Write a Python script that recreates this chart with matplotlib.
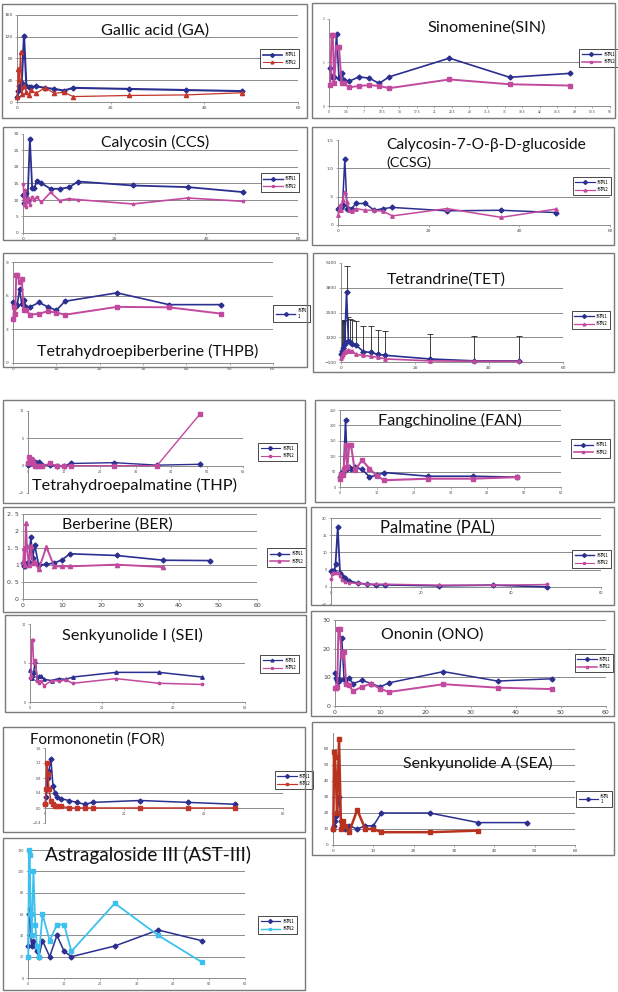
import matplotlib
matplotlib.use('Agg')
import matplotlib.pyplot as plt
from matplotlib.patches import Rectangle
from matplotlib.lines import Line2D
import numpy as np

W, H = 618, 992
fig = plt.figure(figsize=(W / 100, H / 100), dpi=100)
fig.patch.set_facecolor('white')

NAVY = '#2B2F8F'
MAG = '#C24A9E'
RED = '#C3352B'
CYAN = '#3CC0EE'
CJK = ['Noto Sans CJK SC', 'DejaVu Sans']
TITLE_FONT = ['Lato', 'DejaVu Sans']

# ---------------- data ----------------
T17 = [0.083, 0.25, 0.5, 0.75, 1, 1.5, 2, 2.5, 3, 4, 6, 8, 10, 12, 24, 36, 48]
T16 = [0.25, 0.5, 0.75, 1, 1.5, 2, 2.5, 3, 4, 6, 8, 10, 12, 24, 36, 48]
T16_36 = [0.083, 0.25, 0.5, 0.75, 1, 1.5, 2, 2.5, 3, 4, 6, 8, 10, 12, 24, 36]
legend_labels = ['系列1', '系列2']

ga_s1 = [10, 20, 30, 25, 35, 122, 30, 27, 27, 29, 26, 24, 21, 26, 24, 22, 20]
ga_s2 = [10, 60, 40, 92, 15, 30, 18, 12, 22, 16, 26, 16, 18, 10, 12, 13, 17]

sin_s1 = [0.87, 0.67, 0.70, 0.67, 1.65, 0.64, 0.75, 0.60, 0.57, 0.67, 0.64, 0.52, 0.67, 1.10, 0.66, 0.75]
sin_s2 = [0.48, 1.63, 1.63, 0.52, 1.36, 1.36, 0.52, 0.52, 0.43, 0.46, 0.48, 0.46, 0.41, 0.61, 0.50, 0.47]

ccs_s1 = [11.6, 9.0, 10.0, 12.0, 10.0, 28.5, 13.6, 13.6, 15.8, 15.1, 13.4, 13.4, 13.8, 15.6, 14.4, 13.9, 12.4]
ccs_s2 = [14.9, 8.5, 13.0, 8.0, 10.6, 8.5, 10.9, 10.0, 10.9, 9.3, 12.3, 9.8, 10.4, 10.1, 8.8, 10.6, 9.6]

ccsg_s1 = [0.29, 0.30, 0.32, 0.30, 0.35, 1.16, 0.29, 0.29, 0.29, 0.38, 0.38, 0.26, 0.29, 0.31, 0.25, 0.26, 0.22]
ccsg_s2 = [0.18, 0.26, 0.35, 0.26, 0.44, 0.59, 0.41, 0.26, 0.24, 0.29, 0.26, 0.26, 0.24, 0.16, 0.29, 0.135, 0.28]

thpb_s1 = [5.46, 5.2, 5.0, 5.1, 5.2, 6.6, 5.3, 5.6, 5.0, 5.0, 5.4, 5.0, 4.7, 5.5, 6.25, 5.2, 5.2]
thpb_s2 = [3.9, 5.0, 4.4, 7.8, 7.8, 7.2, 7.5, 4.7, 4.7, 4.3, 4.4, 4.6, 4.5, 4.3, 5.0, 4.96, 4.4]

tet_s1 = [300, 500, 650, 800, 900, 3580, 1000, 950, 850, 800, 450, 400, 300, 250, 60, -40, -40]
tet_s2 = [100, 200, 300, 400, 450, 500, 520, 500, 480, 300, 250, 200, 150, 60, -40, -60, -60]
tet_err_top = [1900, 2000, 2050, 2100, 2100, 4940, 2250, 2150, 2100, 2040, 1780, 1780, 1600, 1550, 1375, 1290, 1290]

thp_s1 = [0.1, 0.3, 0.4, 0.4, 0.6, 0.4, 0.7, 0.5, 0.6, 0.1, 0.1, 0.0, 0.0, 0.4, 0.55, 0.1, 0.25]
thp_s2 = [0.4, 1.6, 0.7, 1.3, 1.0, 0.5, 0.0, 0.0, 0.0, -0.1, 0.4, 0.0, 0.0, 0.0, 0.0, 0.0, 9.45]

fan_s1 = [32, 43, 49, 45, 55, 217, 60, 65, 60, 65, 57, 33, 38, 47, 35, 35, 32]
fan_s2 = [27, 38, 43, 38, 60, 135, 65, 135, 135, 54, 87, 60, 36, 22, 27, 27, 32]

ber_s1 = [1.06, 0.96, 0.96, 1.0, 1.06, 1.1, 1.82, 1.2, 1.6, 1.0, 1.02, 1.06, 1.15, 1.33, 1.28, 1.14, 1.13]
ber_s2 = [1.1, 1.5, 1.0, 2.23, 1.55, 1.0, 1.55, 1.06, 1.1, 0.87, 1.53, 0.96, 0.96, 0.96, 1.01, 0.94]

pal_s1 = [4.6, 4.6, 4.6, 4.6, 6.5, 17.3, 4.1, 3.2, 2.5, 1.7, 1.06, 0.77, 0.58, 0.58, 0.29, 0.48, 0.0]
pal_s2 = [2.2, 3.6, 4.1, 4.1, 4.1, 4.1, 3.2, 1.9, 1.5, 1.15, 0.96, 0.77, 0.77, 0.77, 0.48, 0.48, 0.67]

sei_s1 = [4.15, 3.2, 3.1, 3.5, 3.8, 5.3, 3.0, 3.3, 3.3, 2.9, 2.75, 3.0, 2.9, 3.2, 3.8, 3.8, 3.2]
sei_s2 = [3.1, 3.3, 8.0, 8.0, 5.0, 5.4, 2.7, 2.5, 2.7, 2.1, 2.75, 2.7, 2.8, 2.4, 3.0, 2.4, 2.25]

ono_s1 = [11.6, 9.9, 9.0, 8.5, 9.0, 23.8, 9.3, 8.1, 9.9, 7.8, 9.0, 7.8, 6.7, 8.1, 12.0, 8.7, 9.5]
ono_s2 = [6.2, 6.4, 6.5, 27, 27, 17.4, 19.0, 7.6, 7.3, 5.2, 6.7, 7.8, 6.0, 4.9, 7.6, 6.4, 5.9]

for_s1 = [0.1, 0.3, 0.5, 0.8, 1.0, 1.3, 0.6, 0.4, 0.3, 0.25, 0.2, 0.15, 0.1, 0.15, 0.2, 0.15, 0.1]
for_s2 = [0.1, 0.5, 1.2, 0.9, 0.5, 0.2, 0.1, 0.05, 0.05, 0.05, 0.0, 0.0, 0.0, 0.0, 0.0, 0.0, 0.0]

sea_s1 = [10, 12, 15, 18, 20, 30, 15, 12, 10, 12, 10, 12, 12, 20, 20, 14, 14]
sea_s2 = [10, 58, 55, 40, 20, 66, 10, 15, 12, 8, 22, 10, 10, 8, 8, 9]

ast_s1 = [30, 60, 65, 40, 30, 35, 30, 25, 20, 35, 20, 40, 25, 20, 30, 45, 35]
ast_s2 = [20, 120, 115, 60, 40, 100, 50, 30, 20, 60, 35, 50, 50, 25, 70, 40, 15]


# ---------------- helpers ----------------
def frect(x0, y0, x1, y1):
    return [x0 / W, 1 - y1 / H, (x1 - x0) / W, (y1 - y0) / H]


def fit_text(x, y, s, target_w, ha='center', fs=10):
    t = fig.text(x / W, 1 - y / H, s, ha=ha, va='center', fontsize=fs,
                 family=TITLE_FONT, color='#111111')
    r = fig.canvas.get_renderer()
    w = t.get_window_extent(r).width
    t.set_fontsize(fs * target_w / w)
    return t


def panel(frame, axbox, xlim, xticks, ylim, yticks, grid, titles, series,
          legend_box, labels=legend_labels, ytick_labels=None, xtick_labels=None,
          tick_fs=3.2, zero_axis=False, err=None):
    fig.add_artist(Rectangle((frame[0] / W, 1 - frame[3] / H),
                             (frame[2] - frame[0]) / W, (frame[3] - frame[1]) / H,
                             transform=fig.transFigure, fill=False,
                             edgecolor='#7a7a7a', lw=1.0))
    ax = fig.add_axes(frect(*axbox))
    ax.set_facecolor('none')
    ax.set_xlim(*xlim)
    ax.set_ylim(*ylim)
    ax.set_xticks(xticks)
    ax.set_yticks(yticks)
    if ytick_labels is not None:
        ax.set_yticklabels(ytick_labels)
    if xtick_labels is not None:
        ax.set_xticklabels(xtick_labels)
    for g in grid:
        ax.axhline(g, color='#8c8c8c', lw=0.7, zorder=0)
    for sp in ['top', 'right']:
        ax.spines[sp].set_visible(False)
    for sp in ['left', 'bottom']:
        ax.spines[sp].set_color('#8c8c8c')
        ax.spines[sp].set_linewidth(0.7)
    if zero_axis:
        ax.spines['bottom'].set_position(('data', 0))
    ax.tick_params(length=1.5, width=0.5, colors='#8c8c8c', labelcolor='#444444',
                   labelsize=tick_fs, pad=1.5)
    if err is not None:
        ex, ey, etop = err
        lower = np.zeros(len(ey))
        upper = np.array(etop) - np.array(ey)
        ax.errorbar(ex, ey, yerr=[lower, upper], fmt='none', ecolor='#222222',
                    elinewidth=0.6, capsize=2, capthick=0.6, zorder=1)
    handles = []
    for s in series:
        ax.plot(s['x'], s['y'], color=s['c'], marker=s['m'], ms=s.get('ms', 3),
                lw=s.get('lw', 1.2), mec=s['c'], mfc=s['c'], zorder=3, clip_on=False)
        handles.append(Line2D([], [], color=s['c'], marker=s['m'], ms=2, lw=s.get('lw', 1.2) * 0.8))
    for (tx, ty, ts, tw, ha) in titles:
        fit_text(tx, ty, ts, tw, ha=ha)
    lb = legend_box
    leg = ax.legend(handles[:len(labels)], labels, loc='center',
                    bbox_to_anchor=((lb[0] + lb[2]) / 2 / W, 1 - (lb[1] + lb[3]) / 2 / H),
                    bbox_transform=fig.transFigure,
                    prop={'family': CJK, 'size': 3.3}, frameon=True, fancybox=False,
                    edgecolor='black', borderpad=0.6, handlelength=4.2, handletextpad=0.5,
                    labelspacing=0.6, borderaxespad=0, framealpha=1)
    leg.get_frame().set_linewidth(0.5)
    return ax


def S(x, y, c, m, ms=3, lw=1.2):
    return dict(x=x, y=y, c=c, m=m, ms=ms, lw=lw)


# ---------------- panels ----------------
# Gallic acid
panel((2, 4, 307, 118), (17, 15, 298, 102), (0, 60), [0, 20, 40, 60], (0, 160),
      [0, 40, 80, 120, 160], [40, 80, 120, 160],
      [(155, 31, 'Gallic acid (GA)', 108, 'center')],
      [S(T17, ga_s1, NAVY, 'D', 2.5, 1.5), S(T17, ga_s2, RED, '^', 3, 0.9)],
      (262, 50, 297, 67))

# Sinomenine
sin_ticks = list(np.arange(0, 56.1, 3.5))
panel((312, 3, 615, 118), (329, 19, 610, 106), (0, 56), sin_ticks, (0, 2),
      [0, 1, 2], [1],
      [(487, 28, 'Sinomenine(SIN)', 118, 'center')],
      [S(T16, sin_s1, NAVY, 'D', 2.5, 1.2), S(T16, sin_s2, MAG, 's', 3, 1.4)],
      (587, 50, 610, 66), xtick_labels=['%g' % v for v in sin_ticks], tick_fs=2.2)

# Calycosin
panel((3, 127, 307, 240), (23, 134, 298, 233), (0, 60), [0, 20, 40, 60], (0, 30),
      [0, 5, 10, 15, 20, 25, 30], [5, 10, 15, 20, 25],
      [(155, 142, 'Calycosin (CCS)', 108, 'center')],
      [S(T17, ccs_s1, NAVY, 'D', 2.5, 1.3), S(T17, ccs_s2, MAG, '*', 2.5, 1.2)],
      (258, 177, 302, 188))

# CCSG
panel((312, 127, 614, 245), (338, 140, 610, 225), (0, 60), [0, 20, 40, 60], (0, 1.5),
      [0, 0.5, 1.0, 1.5], [0.5, 1.0],
      [(386, 145, 'Calycosin-7-O-β-D-glucoside', 200, 'left'), (386, 163, '(CCSG)', 45, 'left')],
      [S(T17, ccsg_s1, NAVY, 'D', 2.5, 1.1), S(T17, ccsg_s2, MAG, '^', 2.5, 1.1)],
      (571, 180, 613, 192), ytick_labels=['0', '.5', '1.0', '1.5'])

# THPB
panel((3, 253, 307, 367), (13, 262, 273, 363), (0, 60), [0, 10, 20, 30, 40, 50, 60], (0, 9),
      [0, 3, 6, 9], [3, 6, 9],
      [(148, 351, 'Tetrahydroepiberberine (THPB)', 223, 'center')],
      [S(T17, thpb_s1, NAVY, 'D', 2.5, 1.2), S(T17, thpb_s2, MAG, 's', 3, 1.4)],
      (278, 307, 305, 320), labels=['系列\n1'])

# Tetrandrine
panel((313, 253, 614, 372), (341, 263, 563, 362), (0, 60), [0, 20, 40, 60], (-100, 5100),
      [-100, 1200, 2500, 3800, 5100], [1200, 2500, 3800],
      [(446, 280, 'Tetrandrine(TET)', 120, 'center')],
      [S(T17, tet_s1, NAVY, 'D', 2.5, 1.2), S(T17, tet_s2, MAG, '^', 2.5, 1.2)],
      (571, 313, 611, 327), err=(T17, tet_s1, tet_err_top))

# THP
panel((3, 400, 305, 503), (28, 411, 243, 493), (0, 60), [0, 10, 20, 30, 40, 50, 60], (-5, 10),
      [-5, 0, 5, 10], [5],
      [(135, 485, 'Tetrahydroepalmatine (THP)', 205, 'center')],
      [S(T17, thp_s1, NAVY, 'D', 2.5, 1.0), S(T17, thp_s2, MAG, 's', 2.5, 1.0)],
      (255, 445, 300, 459), zero_axis=True, tick_fs=2.4)

# Fangchinoline
panel((315, 400, 614, 502), (340, 410, 561, 487), (0, 60), [0, 10, 20, 30, 40, 50, 60], (0, 250),
      [0, 50, 100, 150, 200, 250], [50, 100, 150, 200, 250],
      [(450, 420, 'Fangchinoline (FAN)', 143, 'center')],
      [S(T17, fan_s1, NAVY, 'D', 2.5, 1.2), S(T17, fan_s2, MAG, 's', 3, 1.5)],
      (571, 442, 610, 455), tick_fs=2.4)

# Berberine
panel((3, 507, 306, 612), (23, 514, 257, 599), (0, 60), [0, 10, 20, 30, 40, 50, 60], (0, 2.5),
      [0, 0.5, 1, 1.5, 2, 2.5], [0.5, 1, 1.5, 2, 2.5],
      [(117, 525, 'Berberine (BER)', 111, 'center')],
      [S(T17, ber_s1, NAVY, 'D', 2.5, 1.2), S(T16_36, ber_s2, MAG, '^', 3, 1.4)],
      (267, 552, 306, 563), ytick_labels=['0', '0. 5', '1', '1. 5', '2', '2. 5'], tick_fs=4.5)

# Palmatine
panel((311, 507, 614, 605), (331, 518, 601, 604), (0, 60), [0, 20, 40, 60], (-5, 20),
      [-5, 0, 5, 10, 15, 20], [5, 10, 15, 20],
      [(437, 528, 'Palmatine (PAL)', 115, 'center')],
      [S(T17, pal_s1, NAVY, 'D', 2.5, 1.3), S(T17, pal_s2, MAG, '*', 2.5, 1.0)],
      (570, 553, 613, 565), zero_axis=True, tick_fs=2.6)

# Senkyunolide I
panel((5, 615, 306, 712), (30, 624, 245, 702), (0, 60), [0, 20, 40, 60], (0, 10),
      [0, 5, 10], [5],
      [(132, 635, 'Senkyunolide I (SEI)', 140, 'center')],
      [S(T17, sei_s1, NAVY, '^', 2.5, 1.1), S(T17, sei_s2, MAG, '*', 2.5, 1.1)],
      (257, 658, 302, 670), tick_fs=2.4)

# Ononin
panel((311, 611, 614, 716), (335, 620, 606, 706), (0, 60), [0, 10, 20, 30, 40, 50, 60], (0, 30),
      [0, 10, 20, 30], [10, 20, 30],
      [(432, 635, 'Ononin (ONO)', 102, 'center')],
      [S(T17, ono_s1, NAVY, 'D', 2.5, 1.1), S(T17, ono_s2, MAG, 's', 3, 1.4)],
      (578, 658, 610, 668), tick_fs=4.5)

# Formononetin
panel((3, 727, 305, 832), (45, 748, 283, 823), (0, 60), [0, 20, 40, 60], (-0.4, 1.6),
      [-0.4, 0, 0.4, 0.8, 1.2, 1.6], [0.4],
      [(97, 740, 'Formononetin (FOR)', 135, 'center')],
      [S(T17, for_s1, NAVY, 'D', 2.5, 1.1), S(T17, for_s2, RED, 's', 2.5, 1.1)],
      (284, 770, 304, 790), zero_axis=True, tick_fs=2.4)

# Senkyunolide A
panel((312, 722, 614, 855), (333, 733, 575, 845), (0, 60), [0, 10, 20, 30, 40, 50, 60], (0, 70),
      [0, 10, 20, 30, 40, 50, 60], [10, 20, 30, 40, 50, 60],
      [(478, 763, 'Senkyunolide A (SEA)', 150, 'center')],
      [S(T17, sea_s1, NAVY, 'D', 2.5, 1.1), S(T16_36, sea_s2, '#B8321E', 's', 3, 1.8)],
      (578, 790, 610, 808), labels=['系列\n1'], tick_fs=3.0)

# Astragaloside III
panel((3, 838, 305, 990), (28, 850, 245, 978), (0, 60), [0, 10, 20, 30, 40, 50, 60], (0, 120),
      [0, 20, 40, 60, 80, 100, 120], [20, 40, 60, 80, 100, 120],
      [(148, 855, 'Astragaloside III (AST-III)', 205, 'center')],
      [S(T17, ast_s1, NAVY, 'D', 2.5, 1.1), S(T17, ast_s2, CYAN, 's', 3, 1.3)],
      (255, 915, 300, 935), tick_fs=2.4)

fig.savefig('out.png', dpi=100, facecolor='white')
